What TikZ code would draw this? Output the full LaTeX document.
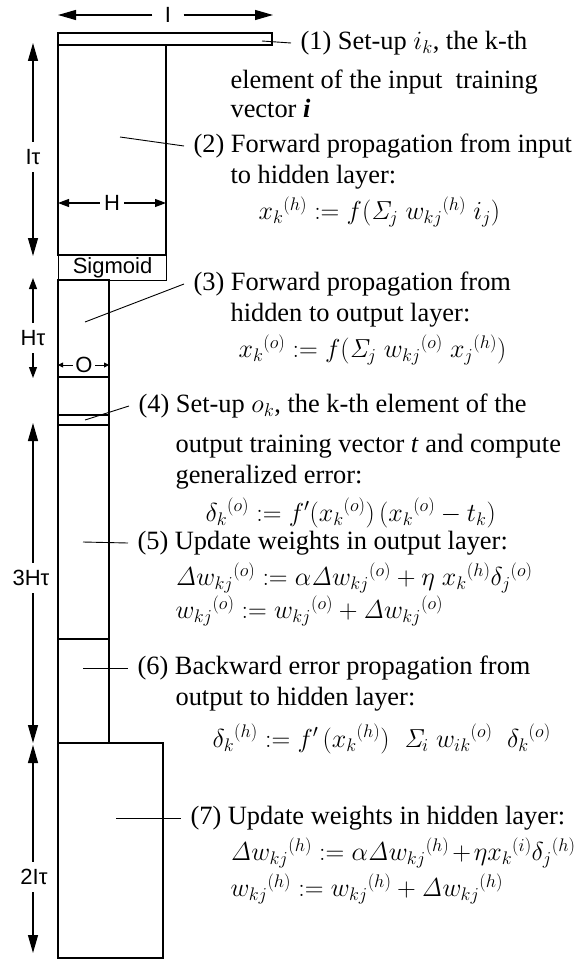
\RequirePackage{fix-cm}
\documentclass[tikz,border=0pt]{standalone}
\usepackage{amsmath}
\usepackage[no-math]{fontspec}
\setmainfont{Liberation Serif}
\setsansfont{Liberation Sans}
\usetikzlibrary{arrows.meta,positioning,calc}

\begin{document}
\begin{tikzpicture}[
  x=1pt,y=-1pt,
  line width=1.1pt,
  txt/.style={anchor=west,inner xsep=9pt,inner ysep=0pt,font=\fontsize{26.4}{30}\selectfont},
  mth/.style={txt,font=\fontsize{26}{30}\selectfont},
  lbl/.style={font=\sffamily\fontsize{22}{24}\selectfont,inner sep=4pt},
  dimarr/.style={-{Triangle[length=18pt,width=10pt]}},
  smallarr/.style={-{Triangle[length=11pt,width=8pt]}},
  tinyarr/.style={-{Triangle[length=5pt,width=5pt]},line width=0.9pt},
  lead/.style={line width=0.9pt}
]
\useasboundingbox (0,0) rectangle (582,960);

% memory blocks
\draw (58,33) rectangle (272,45);
\draw (58,45) rectangle (166,255);
\node[draw,lbl,anchor=north west,inner sep=0pt,minimum width=108pt,minimum height=25pt] (sig) at (58,255) {Sigmoid};
\draw (58,280) rectangle (109,743);
\draw (58,377) -- (109,377);
\draw (58,415) -- (109,415);
\draw (58,425) -- (109,425);
\draw (58,639) -- (109,639);
\draw (58,743) rectangle (163,958);

% widths
\node[lbl,inner xsep=12pt] (I) at (168,15) {I};
\coordinate (Il) at (58,15);
\coordinate (Ir) at (273,15);
\draw[dimarr] (I) -- (Il);
\draw[dimarr] (I) -- (Ir);
\node[lbl] (H) at (112,203) {H};
\coordinate (Hl) at (58,203);
\coordinate (Hr) at (166,203);
\draw[smallarr] (H) -- (Hl);
\draw[smallarr] (H) -- (Hr);
\node[lbl,inner xsep=2pt] (O) at (84,365) {O};
\coordinate (Ol) at (58,365);
\coordinate (Or) at (109,365);
\draw[tinyarr] (O) -- (Ol);
\draw[tinyarr] (O) -- (Or);

% heights
\node[lbl,inner ysep=7pt] (It) at (33,157) {Iτ};
\coordinate (Itt) at (33,43);
\coordinate (Itb) at (33,256);
\draw[dimarr] (It) -- (Itt);
\draw[dimarr] (It) -- (Itb);
\node[lbl,inner ysep=7pt] (Ht) at (33,338) {Hτ};
\coordinate (Htt) at (33,278);
\coordinate (Htb) at (33,378);
\draw[smallarr] (Ht) -- (Htt);
\draw[smallarr] (Ht) -- (Htb);
\node[lbl,inner ysep=7pt] (HHt) at (31,578) {3Hτ};
\coordinate (HHtt) at (33,423);
\coordinate (HHtb) at (33,743);
\draw[dimarr] (HHt.north -| HHtt) -- (HHtt);
\draw[dimarr] (HHt.south -| HHtb) -- (HHtb);
\node[lbl,inner ysep=7pt] (IIt) at (34,877) {2Iτ};
\coordinate (IItt) at (33,745);
\coordinate (IItb) at (33,953);
\draw[dimarr] (IIt.north -| IItt) -- (IItt);
\draw[dimarr] (IIt.south -| IItb) -- (IItb);

% step texts
\node[txt] (s1a) at (291,43) {(1) Set-up $i_k$, the k-th};
\node[txt] (s1b) at (221,82) {element of the input\ \ training};
\node[txt] (s1c) at (221,108) {vector \textbf{\textit{i}}};
\node[txt] (s2a) at (184,146) {(2) Forward propagation from input};
\node[txt] (s2b) at (221,177) {to hidden layer:};
\node[mth] (s2c) at (249,212) {$x_k{}^{(h)} := f(\mathit{\Sigma}_j\; w_{kj}{}^{(h)}\; i_j)$};
\node[txt] (s3a) at (184,284) {(3) Forward propagation from};
\node[txt] (s3b) at (221,315) {hidden to output layer:};
\node[mth] (s3c) at (229,350) {$x_k{}^{(o)} : = f(\mathit{\Sigma}_j\; w_{kj}{}^{(o)}\; x_j{}^{(h)})$};
\node[txt] (s4a) at (129,406) {(4) Set-up $o_k$, the k-th element of the};
\node[txt] (s4b) at (166,446) {output training vector \textit{t} and compute};
\node[txt] (s4c) at (166,477) {generalized error:};
\node[mth] (s4d) at (196,513) {$\delta_k{}^{(o)} := f'(x_k{}^{(o)})\,(x_k{}^{(o)} - t_k)$};
\node[txt] (s5a) at (128,543) {(5) Update weights in output layer:};
\node[mth] (s5b) at (166,578) {$\mathit{\Delta} w_{kj}{}^{(o)} := \alpha\mathit{\Delta} w_{kj}{}^{(o)} + \eta\; x_k{}^{(h)}\delta_j{}^{(o)}$};
\node[mth] (s5c) at (166,611) {$w_{kj}{}^{(o)} := w_{kj}{}^{(o)} + \mathit{\Delta} w_{kj}{}^{(o)}$};
\node[txt] (s6a) at (128,668) {(6) Backward error propagation from};
\node[txt] (s6b) at (166,699) {output to hidden layer:};
\node[mth] (s6c) at (203,739) {$\delta_k{}^{(h)} : = f'\,(x_k{}^{(h)})\;\;\mathit{\Sigma}_i\;w_{ik}{}^{(o)}\;\;\delta_k{}^{(o)}$};
\node[txt] (s7a) at (181,818) {(7) Update weights in hidden layer:};
\node[mth] (s7b) at (221,853) {\medmuskip=2mu $\mathit{\Delta} w_{kj}{}^{(h)} := \alpha\mathit{\Delta} w_{kj}{}^{(h)} + \eta x_k{}^{(i)}\delta_j{}^{(h)}$};
\node[mth] (s7c) at (221,889) {$w_{kj}{}^{(h)} := w_{kj}{}^{(h)} + \mathit{\Delta} w_{kj}{}^{(h)}$};

% leaders
\coordinate (p1) at (262,41);
\coordinate (p2) at (120,137);
\coordinate (p3) at (85,322);
\coordinate (p4) at (85,420);
\coordinate (p5) at (83,542);
\coordinate (p6) at (83,668);
\coordinate (p7) at (116,818);
\draw[lead] (p1) -- (s1a.west);
\draw[lead] (p2) -- (s2a.west);
\draw[lead] (p3) -- (s3a.west);
\draw[lead] (p4) -- (s4a.west);
\draw[lead] (p5) -- (s5a.west);
\draw[lead] (p6) -- (s6a.west);
\draw[lead] (p7) -- (s7a.west);
\end{tikzpicture}
\end{document}
